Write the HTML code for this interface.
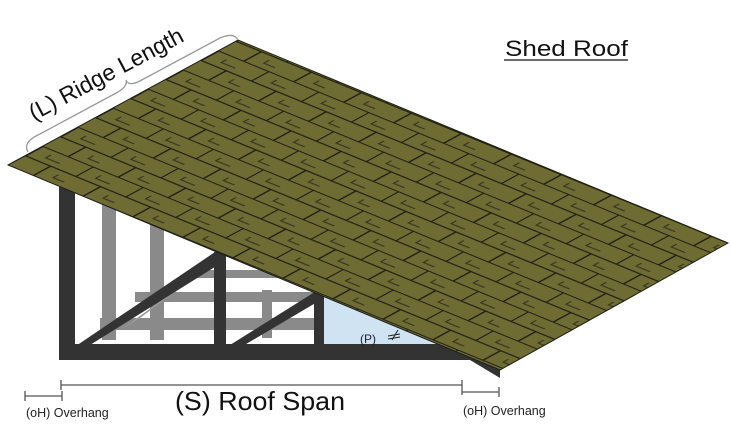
<!DOCTYPE html>
<html><head><style>
html,body{margin:0;padding:0;background:#fff;}
svg{display:block;font-family:"Liberation Sans",Arial,sans-serif;}
</style></head><body>
<svg width="731" height="445" viewBox="0 0 731 445" xmlns="http://www.w3.org/2000/svg">
<defs>
<pattern id="sh" patternUnits="userSpaceOnUse" width="50" height="40" patternTransform="matrix(1,0.41,-0.878,0.477,8,165)">
<rect width="50" height="40" fill="#6e6b33"/>
<path d="M0 0.5H50M0 20.5H50M0.5 0V20M25.5 20V40" stroke="#1e1e14" stroke-width="1.6" fill="none"/>
<path d="M14 7V13H28M39 27V33H50" stroke="#2e2d20" stroke-width="1.4" fill="none" opacity="0.85"/>
</pattern>
</defs>
<!-- back grey framing -->
<g fill="#8a8a8a">
<rect x="102" y="200" width="14" height="140"/>
<rect x="150" y="215" width="14" height="125"/>
<rect x="100" y="318" width="220" height="12"/>
<rect x="135" y="292" width="185" height="10"/>
<rect x="190" y="270" width="130" height="8"/>
<rect x="262" y="290" width="10" height="48"/>
</g>
<polygon points="212,265 232,250 140,318 120,330" fill="#9a9a9a"/>
<!-- blue triangle -->
<polygon points="322,296 322,345 440,345" fill="#cfe3f2"/>
<!-- dark frame -->
<g fill="#333">
<rect x="59" y="187" width="16" height="173"/>
<rect x="59" y="344" width="430" height="16"/>
<rect x="214" y="252" width="12" height="106"/>
<rect x="314" y="292" width="10" height="56"/>
<polygon points="70,350 82,350 226,260 218,250"/>
<polygon points="222,350 236,350 324,298 318,290"/>
<polygon points="440,345 500,368 500,378 470,360"/>
</g>
<!-- roof -->
<polygon points="8,165 238,40 728,243 500,370" fill="url(#sh)" stroke="#1e1e14" stroke-width="1"/>
<!-- ridge label -->
<text x="0" y="0" font-size="23" fill="#111" transform="translate(34,121) rotate(-28)">(L) Ridge Length</text>
<path d="M28,152 Q22,142 40,134 L118,92 Q128,86 126,80 Q128,86 138,82 L220,38 Q234,32 238,40" fill="none" stroke="#999" stroke-width="1.3"/>
<text x="505" y="56" font-size="22" fill="#111" textLength="123" lengthAdjust="spacingAndGlyphs">Shed Roof</text>
<line x1="504" y1="60" x2="628" y2="60" stroke="#111" stroke-width="1.3"/>
<!-- P label -->
<text x="360" y="343" font-size="12" fill="#223">(P)</text>
<path d="M392,340 L398,330 M388,336 L400,334 M388,339 L400,337" stroke="#222" stroke-width="1"/>
<!-- dimensions -->
<g stroke="#555" stroke-width="1.3">
<line x1="61" y1="385" x2="462" y2="385"/><line x1="61" y1="380" x2="61" y2="390"/><line x1="462" y1="380" x2="462" y2="395"/>
<line x1="25" y1="396" x2="62" y2="396"/><line x1="25" y1="391" x2="25" y2="401"/><line x1="62" y1="391" x2="62" y2="401"/>
<line x1="462" y1="392" x2="499" y2="392"/><line x1="499" y1="387" x2="499" y2="397"/>
</g>
<text x="175" y="410" font-size="26" fill="#111" textLength="170" lengthAdjust="spacingAndGlyphs">(S) Roof Span</text>
<text x="26" y="417" font-size="12.5" fill="#222">(oH) Overhang</text>
<text x="463" y="415" font-size="12.5" fill="#222">(oH) Overhang</text>
</svg>
</body></html>
